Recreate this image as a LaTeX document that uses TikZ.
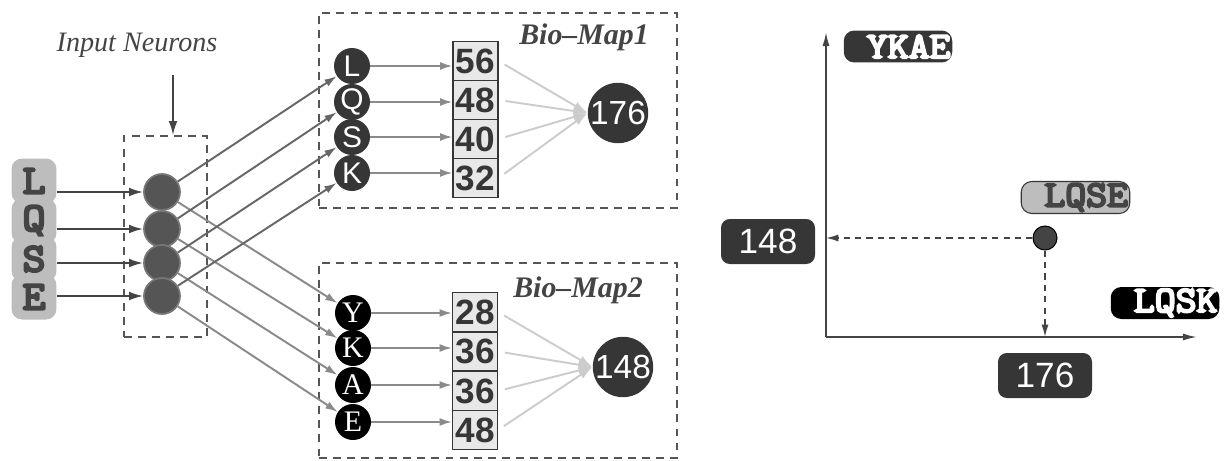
\documentclass[tikz,border=0pt]{standalone}
\usepackage{fontspec}
\setmainfont{Liberation Serif}
\setsansfont{Liberation Sans}
\newfontfamily\heavytt{Latin Modern Mono}[FakeBold=6, FakeStretch=1.1]
\usetikzlibrary{arrows.meta}

\begin{document}
\begin{tikzpicture}[x=0.02cm, y=-0.02cm,
    letter/.style={fill=LightGray, rounded corners=6pt, minimum width=0.9cm, minimum height=0.9cm, inner sep=0pt, text=DarkGray, font=\fontsize{23}{23}\selectfont\heavytt},
    inneuron/.style={circle, fill=MidGray, draw=RimGray, line width=1pt, minimum size=0.72cm, inner sep=0pt},
    mapone/.style={circle, fill=Coal, minimum size=0.72cm, inner sep=0pt, text=white, font=\fontsize{17}{17}\selectfont\sffamily},
    maptwo/.style={circle, fill=black, minimum size=0.72cm, inner sep=0pt, text=white, font=\fontsize{17}{17}\selectfont\rmfamily},
    cell/.style={rectangle, fill=CellGray, draw=Coal, line width=0.6pt, minimum width=0.9cm, minimum height=0.78cm, inner sep=0pt, text=Coal, font=\fontsize{20}{20}\selectfont\sffamily\bfseries},
    sum/.style={circle, fill=Coal, minimum size=1.2cm, inner sep=0pt, text=white, font=\fontsize{19}{19}\selectfont\sffamily},
    mapbox/.style={draw=MidGray, line width=1pt, dash pattern=on 4.5pt off 3.5pt, inner sep=0pt},
    inarrow/.style={draw=DarkGray, line width=1.1pt, -{Latex[length=8pt,width=5pt]}},
    upline/.style={draw=LineGray, line width=1.1pt, -{Latex[length=7pt,width=4.5pt]}},
    downline/.style={draw=PaleLine, line width=1.1pt, -{Latex[length=7pt,width=4.5pt]}},
    grayarrow/.style={draw=PaleLine, line width=1.1pt, -{Latex[length=7pt,width=4.5pt]}},
    soft/.style={draw=SoftGray, line width=1.1pt, shorten <=4pt, -{Latex[length=8pt,width=5pt]}},
    axis/.style={draw=DarkGray, line width=1pt, -{Latex[length=8pt,width=4pt]}},
    dasharrow/.style={draw=DarkGray, line width=0.9pt, dash pattern=on 3.5pt off 3pt, -{Latex[length=7pt,width=4pt]}},
    labbox/.style={rounded corners=6pt, minimum height=0.64cm, inner xsep=1pt, inner ysep=0pt, text width=2.1cm, align=right, font=\fontsize{21}{21}\selectfont\heavytt},
    numlab/.style={fill=Coal, rounded corners=5pt, minimum width=1.88cm, minimum height=0.9cm, inner sep=0pt, text=white, font=\fontsize{20}{20}\selectfont\sffamily}]
    \definecolor{LightGray}{HTML}{BDBDBD}
    \definecolor{DarkGray}{HTML}{444444}
    \definecolor{MidGray}{HTML}{555555}
    \definecolor{RimGray}{HTML}{777777}
    \definecolor{Coal}{HTML}{363636}
    \definecolor{CellGray}{HTML}{E8E8E8}
    \definecolor{LineGray}{HTML}{666666}
    \definecolor{PaleLine}{HTML}{8A8A8A}
    \definecolor{SoftGray}{HTML}{CCCCCC}
    \useasboundingbox (0,0) rectangle (1226,460);

    \node[mapbox, minimum width=7.16cm, minimum height=3.9cm] (map1) at (498,110.5) {};
    \node[mapbox, minimum width=7.16cm, minimum height=3.9cm] (map2) at (498,360.5) {};
    \node[mapbox, minimum width=1.66cm, minimum height=4.02cm] (inbox) at (165.5,236.5) {};
    \node[text=DarkGray, font=\fontsize{16}{16}\selectfont\itshape] (inlabel) at (137,45) {Input Neurons};
    \node[text=DarkGray, font=\fontsize{17}{17}\selectfont\bfseries\itshape] (name1) at (584,37) {Bio--Map1};
    \node[text=DarkGray, font=\fontsize{17}{17}\selectfont\bfseries\itshape] (name2) at (578,290) {Bio--Map2};
    \coordinate (pin) at (173,75);
    \draw[inarrow] (pin) -- (pin |- inbox.north);

    \foreach \ch/\ly/\ny [count=\i] in {L/181/192, Q/221/229, S/259/263, E/297/296}{
        \node[letter] (l\i) at (34,\ly) {\ch};
        \node[inneuron] (n\i) at (162,\ny) {};
    }
    \foreach \i in {1,...,4}{
        \draw[inarrow] (l\i.east |- n\i) -- (n\i);
    }

    \foreach \ch/\my/\val/\by [count=\i] in {L/66/56/61, Q/102/48/100, S/137/40/139, K/173/32/178}{
        \node[mapone] (a\i) at (352,\my) {\ch};
        \node[cell] (p\i) at (475.5,\by) {\val};
        \draw[grayarrow] (a\i) -- (a\i -| p\i.west);
    }
    \node[sum] (s1) at (618,113) {176};

    \foreach \ch/\my/\val/\by [count=\i] in {Y/313/28/312, K/348/36/351.5, A/385/36/391, E/422/48/430}{
        \node[maptwo] (b\i) at (353,\my) {\ch};
        \node[cell] (q\i) at (475,\by) {\val};
        \draw[grayarrow] (b\i) -- (b\i -| q\i.west);
    }
    \node[sum] (s2) at (623,367) {148};

    \foreach \i in {1,...,4}{
        \draw[soft] (p\i.east) -- (s1.west);
        \draw[soft] (q\i.east) -- (s2.west);
        \draw[upline] (n\i) -- (a\i);
        \draw[downline] (n\i) -- (b\i);
    }

    \coordinate (O) at (826,337);
    \coordinate (ytop) at (826,32);
    \coordinate (xend) at (1197,337);
    \draw[axis] (O) -- (ytop);
    \draw[axis] (O) -- (xend);
    \node[labbox, fill=Coal, text=white] (ylab) at (898,46.5) {YKAE};
    \node[labbox, fill=LightGray, draw=Coal, line width=0.6pt, text=DarkGray] (plab) at (1075.5,197.5) {LQSE};
    \node[labbox, fill=black, text=white] (xlab) at (1165,303) {LQSK};
    \node[circle, fill=DarkGray, draw=black, line width=0.6pt, minimum size=0.48cm, inner sep=0pt] (pt) at (1045,238) {};
    \node[numlab] (yval) at (768,241.5) {148};
    \node[numlab] (xval) at (1045,375.5) {176};
    \draw[dasharrow] (pt.west) -- (pt.west -| O);
    \draw[dasharrow] (pt.south) -- (pt.south |- O);
\end{tikzpicture}
\end{document}
